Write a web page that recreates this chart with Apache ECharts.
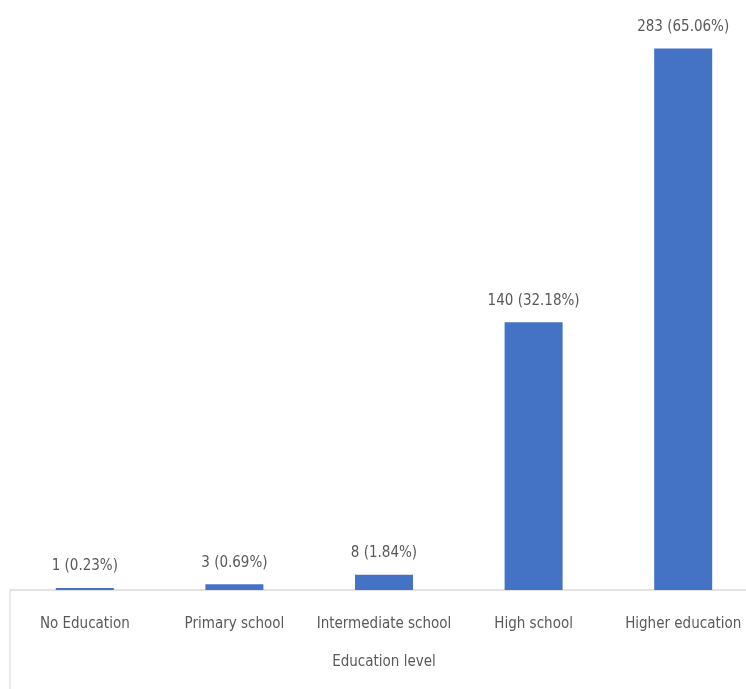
<!DOCTYPE html>
<html>
<head>
<meta charset="utf-8">
<script src="https://cdn.jsdelivr.net/npm/echarts@6/dist/echarts.min.js"></script>
<style>html,body{margin:0;padding:0;background:#fff;}#c{width:746px;height:689px;}</style>
</head>
<body>
<div id="c"></div>
<script>
const categories = ['No Education', 'Primary school', 'Intermediate school', 'High school', 'Higher education'];
const counts = [1, 3, 8, 140, 283];
const percents = ['0.23%', '0.69%', '1.84%', '32.18%', '65.06%'];
const axisTitle = 'Education level';

const FONT = '"Liberation Sans Narrow", "DejaVu Sans Condensed", "Liberation Sans", sans-serif';
const chart = echarts.init(document.getElementById('c'));
chart.setOption({
  animation: false,
  grid: { left: 10, width: 748, top: 16, bottom: 99, containLabel: false, outerBoundsMode: 'none' },
  xAxis: {
    type: 'category',
    data: categories,
    boundaryGap: true,
    name: axisTitle,
    nameLocation: 'middle',
    nameGap: 65,
    nameTextStyle: { fontFamily: FONT, fontSize: 15, color: '#595959' },
    axisLine: { lineStyle: { color: '#d9d9d9', width: 1.5 } },
    axisTick: { show: true, length: 99, interval: function (i) { return i === 0; }, lineStyle: { color: '#e3e3e3', width: 1.5 } },
    axisLabel: { fontFamily: FONT, fontSize: 15, color: '#595959', margin: 27, interval: 0 }
  },
  yAxis: {
    type: 'value',
    min: 0,
    max: 300,
    show: false,
    splitLine: { show: false }
  },
  series: [{
    type: 'bar',
    data: counts,
    barWidth: 58,
    itemStyle: { color: '#4472C4' },
    label: {
      show: true,
      position: 'top',
      distance: 14,
      fontFamily: FONT,
      fontSize: 15,
      color: '#595959',
      formatter: function (p) { return counts[p.dataIndex] + ' (' + percents[p.dataIndex] + ')'; }
    }
  }]
});
</script>
</body>
</html>
